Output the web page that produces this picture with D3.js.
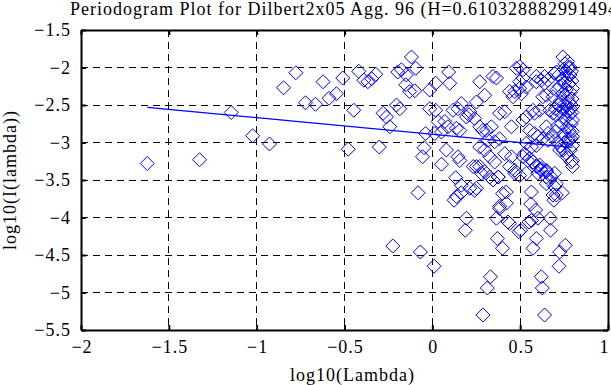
<!DOCTYPE html>
<html><head><meta charset="utf-8">
<script src="https://cdn.jsdelivr.net/npm/d3@7"></script>
<style>
html,body{margin:0;padding:0;background:#fff;}
svg{display:block;}
text{font-family:"Liberation Serif","Times New Roman",serif;fill:#000;letter-spacing:1px;}
</style></head>
<body>
<script>
const titleText = "Periodogram Plot for Dilbert2x05 Agg. 96 (H=0.610328882991494)";
const xLabel = "log10(Lambda)";
const yLabel = "log10(I(lambda))";
const xTicks = [-2, -1.5, -1, -0.5, 0, 0.5, 1];
const yTicks = [-5.5, -5, -4.5, -4, -3.5, -3, -2.5, -2, -1.5];
const fitX = [-1.623, 0.798];
const fitY = [-2.532, -3.066];
const logLambda = [
-1.623,-1.325,-1.145,-1.023,-0.927,-0.847,-0.777,-0.722,-0.665,-0.622,
-0.588,-0.546,-0.510,-0.479,-0.447,-0.419,-0.390,-0.367,-0.345,-0.322,
-0.302,-0.280,-0.261,-0.242,-0.225,-0.204,-0.185,-0.197,-0.176,-0.151,
-0.148,-0.129,-0.119,-0.100,-0.094,-0.081,-0.068,-0.056,-0.047,-0.038,
-0.015,-0.015,0.010,0.014,0.019,0.019,0.033,0.052,0.052,0.071,
0.080,0.089,0.093,0.099,0.118,0.124,0.133,0.137,0.137,0.146,
0.146,0.156,0.165,0.165,0.188,0.194,0.194,0.208,0.213,0.241,
0.251,0.251,0.251,0.270,0.270,0.270,0.279,0.288,0.288,0.298,
0.298,0.307,0.313,0.317,0.327,0.327,0.331,0.336,0.345,0.355,
0.355,0.365,0.365,0.370,0.375,0.383,0.383,0.383,0.399,0.412,
0.421,0.421,0.431,0.440,0.440,0.450,0.459,0.469,0.469,0.478,
0.493,0.497,0.497,0.497,0.497,0.503,0.507,0.516,0.516,0.516,
0.516,0.535,0.535,0.535,0.535,0.544,0.550,0.554,0.560,0.564,
0.564,0.564,0.573,0.573,0.573,0.582,0.582,0.588,0.592,0.592,
0.592,0.592,0.592,0.601,0.601,0.601,0.611,0.620,0.620,0.620,
0.626,0.629,0.629,0.639,0.639,0.639,0.649,0.649,0.649,0.649,
0.649,0.658,0.658,0.658,0.668,0.672,0.673,0.677,0.687,0.687,
0.687,0.687,0.692,0.696,0.696,0.706,0.706,0.706,0.721,0.725,
0.740,0.743,0.757,0.791,0.798,0.798,0.798,0.798,0.798,
0.720,0.725,0.728,0.732,0.735,0.738,0.741,0.744,0.747,0.750,
0.752,0.755,0.757,0.760,0.762,0.764,0.766,0.768,0.770,0.772,
0.774,0.776,0.778,0.780,0.782,0.784,0.786,0.788,0.790,0.792,
0.794,0.796,0.797,0.798,0.716,0.712,0.708,0.700,0.703,0.715,
0.730,0.745,0.760,0.785,0.790,0.770,0.755,0.770,0.785,0.795,
0.780,0.233,0.270,0.298,0.345,0.375,0.400,0.383,0.440,0.469,
0.450,0.412,0.525,0.554,0.620,0.611,0.649,0.668,0.696,0.706,
0.725,0.763,0.798,0.165,0.213,0.241,0.156
];
const logI = [
-3.28,-3.23,-2.60,-2.91,-3.02,-2.27,-2.07,-2.47,-2.49,-2.19,
-2.41,-2.35,-2.14,-3.09,-2.57,-2.05,-2.17,-2.19,-2.15,-2.09,
-3.06,-2.61,-2.66,-2.79,-4.38,-2.50,-2.55,-2.06,-2.03,-2.23,
-2.10,-2.32,-1.86,-2.31,-2.01,-3.67,-4.46,-3.19,-3.07,-2.88,
-2.30,-2.55,-4.65,-2.88,-2.21,-2.57,-2.72,-3.29,-2.86,-2.72,
-3.10,-2.79,-2.06,-2.21,-2.57,-3.77,-3.47,-3.72,-2.81,-2.55,
-3.19,-2.84,-2.48,-3.67,-4.17,-4.01,-2.66,-2.63,-2.59,-2.68,
-2.46,-3.32,-3.61,-2.19,-2.79,-3.06,-3.41,-2.84,-5.30,-2.37,
-3.10,-2.84,-4.94,-2.97,-3.19,-3.46,-4.79,-2.79,-2.12,-2.99,
-3.26,-2.14,-4.01,-4.28,-3.46,-2.95,-2.61,-3.88,-4.41,-2.59,
-3.66,-3.81,-4.06,-4.08,-2.32,-2.79,-2.39,-2.32,-3.41,-2.01,
-4.19,-1.99,-2.19,-2.28,-3.44,-4.17,-2.35,-2.03,-2.14,-2.70,
-3.19,-2.26,-2.66,-3.01,-3.41,-3.24,-4.06,-2.84,-3.82,-4.04,
-3.66,-3.06,-2.57,-3.26,-4.41,-2.88,-2.61,-3.90,-2.12,-2.19,
-4.28,-3.32,-3.04,-2.92,-3.41,-4.01,-2.57,-2.17,-3.37,-4.79,
-4.94,-2.95,-2.39,-2.21,-2.12,-5.30,-2.37,-2.79,-3.39,-3.46,
-3.55,-2.17,-2.97,-2.88,-2.57,-4.01,-4.17,-3.46,-2.39,-2.61,
-2.92,-3.70,-3.77,-2.08,-3.41,-2.06,-2.63,-3.55,-4.65,-4.46,
-3.67,-1.86,-4.37,-3.26,-3.32,-2.52,-2.70,-2.92,-3.04,
-2.10,-2.25,-2.45,-2.60,-2.75,-2.15,-2.35,-2.55,-2.90,-2.02,
-2.20,-2.48,-2.68,-2.05,-2.30,-2.52,-2.80,-2.12,-2.40,-2.58,
-2.95,-2.00,-2.22,-2.46,-2.62,-2.10,-2.33,-2.55,-2.75,-2.05,
-2.18,-2.42,-2.85,-2.28,-2.50,-2.78,-2.30,-2.55,-2.85,-3.00,
-3.05,-3.10,-3.00,-3.10,-2.95,-3.20,-1.95,-1.92,-2.00,-2.60,
-2.85,-3.32,-3.32,-3.39,-3.50,-3.46,-3.68,-3.85,-3.32,-3.37,
-3.19,-3.15,-3.15,-3.21,-3.35,-3.30,-3.37,-3.50,-3.59,-3.70,
-3.10,-3.15,-3.24,-3.57,-3.61,-3.64,-3.24
];

const W = 611, H = 385;
const m = {left: 81, right: 3, top: 30, bottom: 55};
const svg = d3.select("body").append("svg").attr("width", W).attr("height", H);
const x = d3.scaleLinear().domain([-2, 1]).range([m.left, W - m.right]);
const y = d3.scaleLinear().domain([-5.5, -1.5]).range([H - m.bottom, m.top]);
const x0 = x.range()[0], x1 = x.range()[1], y0 = y.range()[0], y1 = y.range()[1];

// grid
const grid = svg.append("g");
grid.selectAll(".vg").data(xTicks.slice(1, -1)).enter().append("line")
  .attr("x1", d => x(d)).attr("x2", d => x(d)).attr("y1", y1).attr("y2", y0)
  .attr("stroke", "#000").attr("stroke-width", 1).attr("stroke-dasharray", "7,5")
  .attr("shape-rendering", "crispEdges");
grid.selectAll(".hg").data(yTicks.slice(1, -1)).enter().append("line")
  .attr("y1", d => y(d)).attr("y2", d => y(d)).attr("x1", x0).attr("x2", x1)
  .attr("stroke", "#000").attr("stroke-width", 1).attr("stroke-dasharray", "7,5")
  .attr("shape-rendering", "crispEdges");

// data points
const diamond = r => `M0,${-r}L${r},0L0,${r}L${-r},0Z`;
svg.append("g").selectAll("path").data(d3.range(logLambda.length)).enter().append("path")
  .attr("d", diamond(7))
  .attr("transform", i => `translate(${x(logLambda[i])},${y(logI[i])})`)
  .attr("fill", "none").attr("stroke", "#0000ff").attr("stroke-width", 1);

// fit line
svg.append("path").datum(d3.range(fitX.length))
  .attr("d", d3.line().x(i => x(fitX[i])).y(i => y(fitY[i])))
  .attr("fill", "none").attr("stroke", "#0000ff").attr("stroke-width", 1.3);

// axes (ticks inward on all sides)
const fmt = d => d3.format("")(d).replace("-", "\u2212");
const axB = svg.append("g").attr("transform", `translate(0,${y0})`)
  .call(d3.axisBottom(x).tickValues(xTicks).tickSizeInner(-5).tickSizeOuter(0).tickPadding(10).tickFormat(fmt));
const axT = svg.append("g").attr("transform", `translate(0,${y1})`)
  .call(d3.axisTop(x).tickValues(xTicks).tickSizeInner(-5).tickSizeOuter(0).tickFormat(""));
const axL = svg.append("g").attr("transform", `translate(${x0},0)`)
  .call(d3.axisLeft(y).tickValues(yTicks).tickSizeInner(-5).tickSizeOuter(0).tickPadding(10).tickFormat(fmt));
const axR = svg.append("g").attr("transform", `translate(${x1},0)`)
  .call(d3.axisRight(y).tickValues(yTicks).tickSizeInner(-5).tickSizeOuter(0).tickFormat(""));
[axB, axT, axL, axR].forEach(a => {
  a.select(".domain").attr("stroke", "#000").attr("stroke-width", 2);
  a.selectAll(".tick line").attr("stroke", "#000").attr("stroke-width", 2);
  a.selectAll("text").attr("font-size", 18).attr("font-family", "Liberation Serif, Times New Roman, serif");
});
axB.selectAll("text").attr("dx", "0.5px");
axB.selectAll(".tick").filter(d => d === 1).select("text").attr("text-anchor", "end").attr("dx", "1px");

// title and labels
svg.append("text").attr("x", 70).attr("y", 15).attr("font-size", 18).text(titleText);
svg.append("text").attr("x", (x0 + x1) / 2 + 8).attr("y", 381).attr("text-anchor", "middle")
  .attr("font-size", 18).text(xLabel);
svg.append("text").attr("transform", `translate(16,${(y0 + y1) / 2}) rotate(-90)`)
  .attr("text-anchor", "middle").attr("font-size", 18).text(yLabel);
</script>
</body></html>
